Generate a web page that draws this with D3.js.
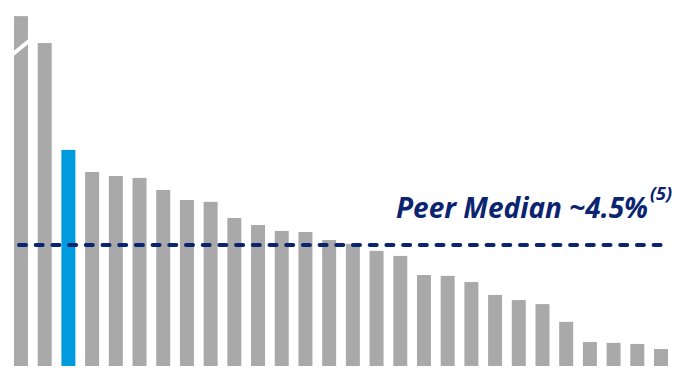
<!DOCTYPE html>
<html>
<head>
<meta charset="utf-8">
<script src="https://cdn.jsdelivr.net/npm/d3@7"></script>
<style>
  body { margin: 0; background: #fff; }
  svg { display: block; }
</style>
</head>
<body>
<div id="chart"></div>
<script>
// peers, sorted high to low; index 2 is the highlighted company
var peers = d3.range(1, 29).map(function(i) { return "P" + i; });
var values = [13.0, 12.0, 8.03, 7.21, 7.06, 6.99, 6.54, 6.17, 6.10, 5.50,
              5.24, 5.02, 4.98, 4.68, 4.54, 4.28, 4.09, 3.38, 3.35, 3.12,
              2.64, 2.45, 2.30, 1.64, 0.89, 0.86, 0.82, 0.63];
var highlight = "P3";
var median = 4.5;
var medianLabel = "Peer Median ~4.5%";
var footnote = "(5)";

var width = 674, height = 368;

var data = peers.map(function(p, i) { return {peer: p, value: values[i]}; });

var svg = d3.select("#chart").append("svg")
    .attr("width", width)
    .attr("height", height);

var x = d3.scaleBand()
    .domain(peers)
    .range([14, 668])
    .paddingInner(0.41)
    .paddingOuter(0);

var y = d3.scaleLinear()
    .domain([0, 13.6])
    .range([366, 0]);

svg.append("g")
  .selectAll("rect")
  .data(data)
  .enter().append("rect")
    .attr("x", function(d) { return x(d.peer); })
    .attr("y", function(d) { return y(d.value); })
    .attr("width", x.bandwidth())
    .attr("height", function(d) { return y(0) - y(d.value); })
    .attr("fill", function(d) { return d.peer === highlight ? "#009ade" : "#a9a9a9"; });

// axis break on the first (off-scale) bar
var b0 = x(peers[0]), bw = x.bandwidth();
var yb = y(11.8);
svg.append("path")
    .attr("d", "M" + (b0 - 1) + "," + (yb + 3) +
               "L" + (b0 + bw + 1) + "," + (yb - 10) +
               "L" + (b0 + bw + 1) + "," + (yb - 5) +
               "L" + (b0 - 1) + "," + (yb + 8) + "Z")
    .attr("fill", "#fff");

// median line
svg.append("line")
    .attr("x1", 19)
    .attr("x2", 663)
    .attr("y1", y(median))
    .attr("y2", y(median))
    .attr("stroke", "#0b2470")
    .attr("stroke-width", 4)
    .attr("stroke-linecap", "round")
    .attr("stroke-dasharray", "7 9.7");

var label = svg.append("text")
    .attr("x", 396)
    .attr("y", 218)
    .attr("fill", "#0b2470")
    .style("font-family", "'Open Sans', sans-serif")
    .style("font-weight", "bold")
    .style("font-style", "italic")
    .style("font-size", "28px")
    .attr("textLength", 252)
    .attr("lengthAdjust", "spacingAndGlyphs")
    .text(medianLabel);

svg.append("text")
    .attr("x", 650)
    .attr("y", 200)
    .attr("fill", "#0b2470")
    .style("font-family", "'Open Sans', sans-serif")
    .style("font-weight", "bold")
    .style("font-style", "italic")
    .style("font-size", "18px")
    .text(footnote);
</script>
</body>
</html>
